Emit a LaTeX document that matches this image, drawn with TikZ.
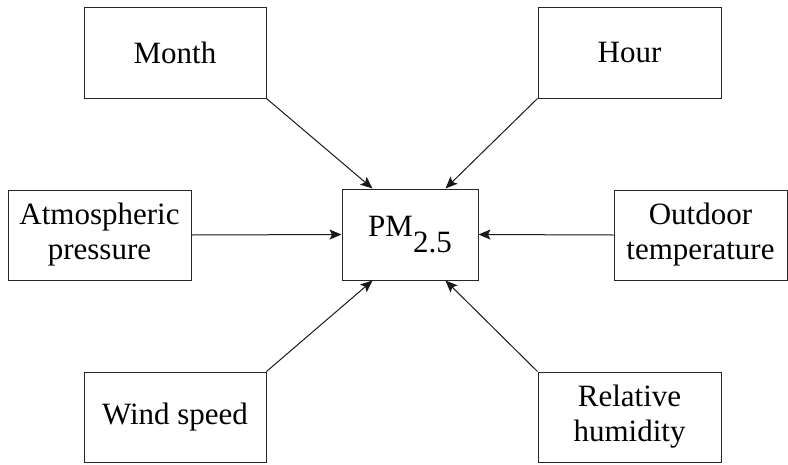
\documentclass[tikz,border=0pt]{standalone}
\usepackage{fontspec}
\setmainfont{Liberation Serif}
\usetikzlibrary{arrows.meta}
\begin{document}
\begin{tikzpicture}[x=1pt, y=-1pt,
  font=\fontsize{31}{35}\selectfont,
  fator/.style={draw=black!85, line width=1pt, align=center, inner sep=2pt,
        minimum width=182pt, minimum height=90pt},
  alvo/.style={fator, minimum width=136pt, minimum height=91pt},
  seta/.style={draw=black!90, line width=1pt,
        -{Stealth[length=12pt, width=10pt, inset=2.5pt]}},
]
  \useasboundingbox (0,0) rectangle (788,464);
  \node[alvo] (pm) at (410,234.5) {PM\raisebox{-0.5em}{2.5}};
  \node[fator, minimum height=91pt] (month) at (175,52.5) {Month};
  \node[fator, minimum width=183pt, minimum height=91pt] (hour) at (629.5,52.5) {Hour};
  \node[fator, minimum width=183pt] (atm) at (99.5,235) {Atmospheric\\pressure};
  \node[fator, minimum width=173pt] (outdoor) at (700.5,235) {Outdoor\\temperature};
  \node[fator] (wind) at (175,417) {Wind speed};
  \node[fator, minimum width=183pt] (hum) at (629.5,417) {Relative\\humidity};
  \draw[seta] (month.south east) -- ([xshift=31pt]pm.north west);
  \draw[seta] (hour.south west) -- ([xshift=-33pt]pm.north east);
  \draw[seta] (atm.east) -- (pm.west);
  \draw[seta] (outdoor.west) -- (pm.east);
  \draw[seta] (wind.north east) -- ([xshift=31pt]pm.south west);
  \draw[seta] (hum.north west) -- ([xshift=-33pt]pm.south east);
\end{tikzpicture}
\end{document}
